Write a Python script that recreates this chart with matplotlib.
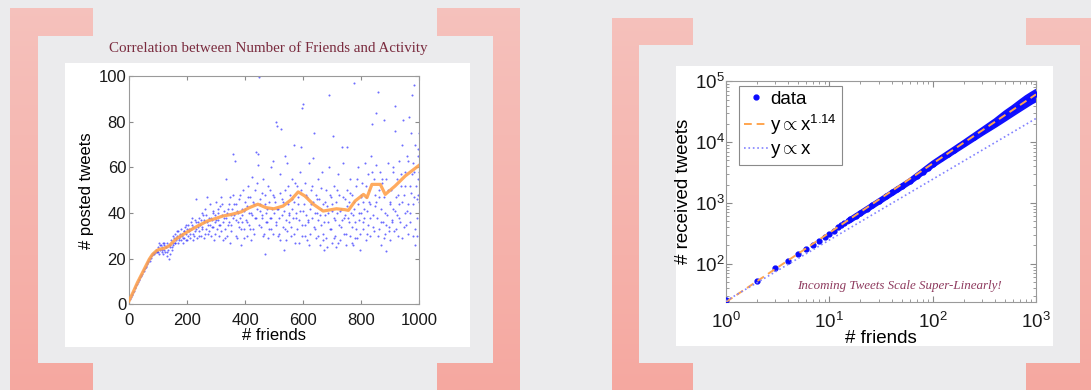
import matplotlib
matplotlib.use("Agg")
import matplotlib.pyplot as plt
import numpy as np
from matplotlib.patches import Polygon, Rectangle
from matplotlib.ticker import FuncFormatter, LogLocator, NullFormatter

plt.rcParams['font.family'] = ['Liberation Sans', 'DejaVu Sans']
plt.rcParams['mathtext.fontset'] = 'custom'
plt.rcParams['mathtext.rm'] = 'Liberation Sans'
plt.rcParams['mathtext.it'] = 'Liberation Sans:italic'
plt.rcParams['mathtext.bf'] = 'Liberation Sans:bold'

# ---- left panel: posted tweets vs friends (scatter) ----
scatter_x = [
    5, 10, 15, 20, 25, 30, 35, 40, 45, 50, 55, 60, 62, 65, 70, 72, 75, 80, 82, 85, 90, 92, 95,
    100, 103, 105, 108, 110, 112, 115, 118, 120, 122, 125, 128, 130, 132, 135, 138, 140, 142, 145, 148, 150,
    152, 155, 158, 160, 162, 165, 168, 170, 172, 175, 178, 180, 183, 185, 188, 190, 192, 195, 198, 200,
    202, 205, 208, 210, 212, 215, 218, 220, 222, 225, 228, 230, 232, 235, 238, 240, 242, 245, 248, 250,
    252, 255, 258, 260, 263, 265, 268, 270, 272, 275, 278, 280, 283, 285, 288, 290, 292, 295, 298, 300,
    302, 305, 308, 310, 312, 315, 318, 320, 323, 325, 328, 330, 333, 335, 338, 340, 343, 345, 348, 350,
    352, 355, 358, 359, 362, 365, 368, 370, 373, 375, 378, 380, 383, 385, 388, 390, 392, 395, 398, 400,
    402, 405, 408, 410, 413, 415, 418, 420, 423, 425, 428, 430, 433, 435, 438, 440, 443, 445, 448, 450,
    452, 455, 458, 460, 462, 465, 468, 469, 472, 475, 478, 480, 483, 485, 488, 490, 492, 495, 497, 500,
    502, 505, 507, 510, 512, 515, 518, 520, 522, 525, 528, 530, 533, 535, 536, 538, 540, 543, 545, 548, 550,
    552, 555, 558, 560, 562, 565, 567, 570, 572, 575, 578, 580, 583, 585, 588, 590, 593, 595, 597, 600,
    602, 605, 608, 610, 612, 615, 618, 620, 622, 625, 628, 630, 633, 634, 638, 640, 643, 645, 648, 650,
    652, 655, 658, 660, 662, 665, 668, 670, 672, 675, 678, 680, 683, 685, 688, 690, 692, 695, 698, 700,
    703, 705, 708, 710, 712, 715, 718, 720, 722, 725, 728, 730, 734, 735, 738, 740, 743, 745, 748, 750,
    752, 755, 758, 760, 762, 765, 768, 770, 772, 775, 777, 779, 780, 782, 785, 788, 790, 792, 795, 798, 800,
    802, 805, 808, 810, 812, 815, 818, 820, 822, 825, 828, 830, 832, 835, 838, 840, 843, 845, 848, 850,
    852, 855, 857, 860, 862, 865, 868, 870, 872, 875, 878, 880, 882, 884, 887, 890, 892, 895, 898, 900,
    902, 905, 908, 910, 912, 915, 917, 920, 922, 925, 928, 930, 932, 935, 938, 940, 942, 945, 948, 950,
    952, 955, 958, 960, 962, 965, 968, 970, 972, 975, 976, 978, 980, 981, 983, 985, 987, 990, 992, 993,
    995, 996, 997, 998, 999, 1000,
]
scatter_y = [
    2.5, 4, 5.5, 7, 8.3, 9.8, 11, 12.3, 13.5, 14.8, 16, 17, 17.5, 18.5, 19.8, 19, 20.5, 21.5, 22.5, 22, 23, 24, 23,
    25, 22, 27, 24, 26, 23, 25, 27, 24, 26, 23, 25, 21, 27, 24, 20, 26, 22, 28, 25, 27,
    26, 29, 27, 31, 28, 30, 27, 32, 29, 31, 28, 33, 30, 27, 32, 29, 34, 31, 28, 33,
    30, 35, 32, 29, 36, 33, 38, 31, 34, 30, 37, 46, 33, 29, 36, 32, 38, 35, 30, 40,
    34, 39, 29, 37, 42, 33, 36, 47, 31, 38, 35, 44, 30, 37, 41, 34, 28, 39, 36, 45,
    33, 40, 37, 30, 43, 35, 47, 39, 28, 36, 41, 33, 38, 55, 30, 42, 36, 44, 27, 39,
    35, 42, 48, 66, 39, 63, 37, 44, 29, 40, 34, 46, 38, 26, 42, 36, 50, 33, 41, 45,
    37, 30, 43, 52, 35, 40, 47, 28, 39, 56, 33, 44, 38, 50, 67, 42, 61, 66, 99.5, 46,
    41, 34, 49, 38, 55, 31, 44, 22, 40, 36, 52, 29, 45, 38, 60, 33, 42, 48, 63, 40,
    45, 35, 80, 78, 30, 42, 38, 57, 28, 77, 46, 34, 41, 24, 65, 50, 37, 62, 32, 44, 39,
    36, 48, 30, 42, 55, 38, 70, 45, 27, 40, 52, 33, 47, 37, 58, 41, 69, 30, 86, 88,
    44, 35, 53, 39, 28, 47, 36, 62, 42, 31, 50, 38, 45, 64, 75, 33, 48, 29, 40, 55,
    37, 46, 26, 42, 35, 58, 31, 44, 24, 39, 50, 29, 43, 36, 60, 92, 33, 47, 27, 41,
    74, 38, 52, 30, 45, 25, 40, 57, 35, 48, 28, 42, 69, 37, 62, 31, 46, 39, 26, 50,
    69, 38, 45, 30, 55, 40, 34, 48, 26, 42, 97, 29, 36, 52, 29, 44, 60, 37, 24, 47, 40,
    53, 33, 45, 38, 62, 28, 47, 41, 57, 35, 50, 30, 44, 65, 79, 39, 55, 32, 48, 84,
    45, 38, 93, 50, 33, 58, 42, 26, 53, 36, 81, 47, 31, 23.5, 55, 39, 62, 34, 45, 28,
    50, 37, 58, 42, 32, 87, 76, 47, 39, 55, 30, 63, 44, 36, 52, 70, 29, 81, 48, 40,
    58, 35, 65, 44, 31, 82, 52, 40, 75, 57, 92, 30, 62, 96, 47, 26, 70, 52, 38, 30,
    65, 48, 55, 45, 75, 58,
]
# second pass over the denser parts of the cloud
scatter_x2 = [
    8, 12, 18, 22, 28, 33, 38, 42, 48, 52, 57, 63, 67, 73, 77, 83, 87, 93, 97,
    101, 107, 113, 117, 121, 127, 131, 137, 141, 147, 151, 157, 161, 167, 171, 177, 181, 187, 191, 197,
    201, 207, 211, 217, 221, 227, 231, 237, 241, 247, 251, 257, 261, 267, 271, 277, 281, 287, 291, 297,
    301, 307, 311, 317, 321, 327, 331, 337, 341, 347, 351, 357, 361, 367, 371, 377, 381, 387, 391, 397,
    401, 407, 411, 417, 421, 427, 431, 437, 441, 447, 451, 457, 461, 467, 471, 477, 481, 487, 491, 497,
    501, 507, 511, 517, 521, 527, 531, 537, 541, 547, 551, 557, 561, 567, 571, 577, 581, 587, 591, 597,
    601, 607, 611, 617, 621, 627, 631, 637, 641, 647, 651, 657, 661, 667, 671, 677, 681, 687, 691, 697,
    701, 707, 711, 717, 721, 727, 731, 737, 741, 747, 751, 757, 761, 767, 771, 777, 781, 787, 791, 797,
    801, 807, 811, 817, 821, 827, 831, 837, 841, 847, 851, 857, 861, 867, 871, 877, 881, 887, 891, 897,
    901, 907, 911, 917, 921, 927, 931, 937, 941, 947, 951, 957, 961, 967, 971, 977, 981, 987, 991, 997,
]
scatter_y2 = [
    3, 4.5, 6, 7.5, 9, 10.5, 12, 13, 14.5, 15.5, 16.5, 18, 19, 20.5, 21, 22, 22.5, 23, 23.5,
    23, 26, 24, 22, 27, 25, 23, 26, 25, 24, 30, 27, 29, 32, 28, 30, 31, 29, 32, 35,
    28, 33, 31, 35, 28, 32, 36, 34, 30, 37, 33, 36, 31, 39, 35, 32, 38, 34, 40, 31,
    37, 42, 35, 32, 44, 38, 29, 40, 35, 47, 32, 38, 44, 30, 41, 36, 48, 33, 39, 29,
    42, 36, 47, 33, 40, 45, 31, 38, 53, 35, 44, 39, 30, 48, 36, 42, 33, 50, 38, 31,
    47, 36, 42, 31, 49, 39, 45, 33, 28, 52, 40, 34, 46, 31, 53, 38, 44, 27, 50, 35,
    41, 30, 48, 37, 26, 44, 52, 34, 40, 46, 30, 39, 51, 28, 36, 45, 25, 40, 48, 33,
    44, 29, 37, 50, 27, 41, 34, 47, 38, 31, 43, 36, 49, 27, 39, 45, 33, 55, 40, 31,
    48, 36, 42, 52, 31, 45, 38, 58, 34, 43, 61, 30, 47, 36, 55, 29, 40, 35, 50, 32,
    44, 36, 60, 41, 33, 48, 38, 57, 45, 34, 52, 41, 63, 36, 49, 44, 58, 33, 46, 68,
]
# moving average (orange line)
avg_x = [0, 15, 29, 45, 58, 70, 81, 95, 104, 120, 138, 161, 196, 236, 270, 300, 323, 352,
         386, 415, 444, 472, 499, 531, 560, 583, 606, 635, 669, 715, 744, 756, 779, 808,
         820, 837, 866, 883, 917, 952, 1000]
avg_y = [1.5, 5.5, 9.5, 13.5, 16.8, 19.8, 21.9, 23.5, 24.1, 24.5, 25.6, 28.5, 31.4, 34.3,
         36.5, 37.7, 38.7, 39.4, 40.5, 42.4, 43.9, 42.4, 41.9, 43.1, 46, 49.3, 47.5, 43.9,
         40.9, 41.9, 41.5, 41.2, 45.3, 48.2, 46.8, 52.6, 52.6, 48.2, 51.9, 56.3, 61]

# ---- right panel: received tweets vs friends (log-log) ----
recv_x = [1, 2, 3, 4, 5, 6, 7, 8, 9, 10, 11, 12, 13, 14, 16, 18, 20, 23, 26, 30, 35, 40, 45,
          50, 60, 70, 80, 90, 100, 120, 140, 160, 180, 200, 250, 300, 350, 400, 500, 600,
          700, 800, 900, 1000]
recv_y = [25, 53, 84, 110, 142, 176, 207, 240, 277, 314, 350, 395, 430, 470, 540, 610, 690,
          800, 920, 1080, 1280, 1490, 1700, 1910, 2330, 2780, 3220, 3700, 4450, 5450, 6450,
          7500, 8550, 9600, 12300, 15200, 18000, 21000, 28000, 34500, 41500, 48500, 55500,
          61500]
band_x = [15, 30, 60, 100, 150, 200, 300, 400, 500, 600, 700, 800, 900, 1000]
band_lo = [495, 1050, 2250, 4250, 6650, 9100, 14200, 19200, 24500, 30000, 35500, 41000,
           46500, 51000]
band_hi = [520, 1110, 2400, 4650, 7350, 10200, 16400, 23000, 31000, 38500, 47000, 55500,
           63000, 70000]
fit_x = [1, 1000]
fit_super_y = [23.5, 61000]
fit_lin_y = [24.5, 24500]

W, H = 1091, 390
BG = '#ebebed'
TOP_PINK = np.array([246, 194, 189]) / 255
BOT_PINK = np.array([245, 168, 160]) / 255
MAROON = '#7a2b3e'

fig = plt.figure(figsize=(W / 100, H / 100), dpi=100)
fig.patch.set_facecolor(BG)
bg = fig.add_axes([0, 0, 1, 1])
bg.axis('off')

grad = TOP_PINK + (BOT_PINK - TOP_PINK) * np.linspace(0, 1, 256)[:, None, None]
brackets = [
    [(10, 8), (93, 8), (93, 36), (38, 36), (38, 363), (93, 363), (93, 400), (10, 400)],
    [(437, 8), (520, 8), (520, 400), (437, 400), (437, 363), (493, 363), (493, 36), (437, 36)],
    [(612, 18), (693, 18), (693, 45), (639, 45), (639, 363), (693, 363), (693, 400), (612, 400)],
    [(1026, 18), (1110, 18), (1110, 400), (1026, 400), (1026, 363), (1080, 363), (1080, 45),
     (1026, 45)],
]
for pts in brackets:
    poly = Polygon(pts, closed=True, fc='none', ec='none')
    bg.add_patch(poly)
    im = bg.imshow(grad, extent=(0, W, H, 0), aspect='auto', zorder=1)
    im.set_clip_path(poly)
bg.set_xlim(0, W)
bg.set_ylim(H, 0)

bg.add_patch(Rectangle((65, 63), 405, 284, fc='white', ec='none', zorder=2))
bg.add_patch(Rectangle((676, 66), 377, 280, fc='white', ec='none', zorder=2))
bg.text(268, 48, 'Correlation between Number of Friends and Activity', family='Liberation Serif',
        fontsize=10.8, color=MAROON, ha='center', va='center', zorder=3)


def px_axes(x0, y0, x1, y1):
    return fig.add_axes([x0 / W, 1 - y1 / H, (x1 - x0) / W, (y1 - y0) / H])


def style(ax, size):
    for s in ax.spines.values():
        s.set_color('#9a9a9a')
        s.set_linewidth(0.8)
    ax.tick_params(which='both', direction='in', top=True, right=True, color='#8a8a8a',
                   labelsize=size, labelcolor='#1a1a1a')


# left chart
ax1 = px_axes(129, 76.3, 419.2, 304.3)
ax1.scatter(scatter_x + scatter_x2, scatter_y + scatter_y2, s=2.2, color='#3c3cff',
            alpha=0.75, lw=0, zorder=2)
ax1.plot(avg_x, avg_y, color='#ffa24d', lw=2.3, alpha=0.9, zorder=3)
ax1.set_xlim(0, 1000)
ax1.set_ylim(0, 100)
ax1.set_xticks(range(0, 1001, 200))
ax1.set_yticks(range(0, 101, 20))
style(ax1, 12)
ax1.tick_params(length=3)
ax1.tick_params(axis='x', pad=6)
ax1.tick_params(axis='y', pad=2)
ax1.set_xlabel('# friends', fontsize=12, labelpad=0)
ax1.set_ylabel('# posted tweets', fontsize=12, labelpad=3)

# right chart
ax2 = px_axes(726, 81.3, 1036, 302)
ax2.set_xscale('log')
ax2.set_yscale('log')
ax2.fill_between(band_x, band_lo, band_hi, color='#1010ff', lw=3.5, ec='#1010ff', zorder=2)
ax2.plot(recv_x, recv_y, '.', color='#0a0aff', ms=7, label='data', zorder=3)
ax2.plot(fit_x, fit_super_y, '--', color='#ffa54f', lw=1.4, dashes=(4, 2.5),
         label=r'y$\propto$x$^{1.14}$', zorder=4)
ax2.plot(fit_x, fit_lin_y, ':', color='#8282ff', lw=1.2, label=r'y$\propto$x', zorder=4)
ax2.set_xlim(1, 1000)
ax2.set_ylim(23.5, 1e5)
sup = FuncFormatter(lambda v, p: r'$\mathregular{10^{%d}}$' % round(np.log10(v)))
ax2.xaxis.set_major_formatter(sup)
ax2.yaxis.set_major_formatter(sup)
ax2.xaxis.set_minor_locator(LogLocator(subs=range(2, 10)))
ax2.yaxis.set_minor_locator(LogLocator(subs=range(2, 10)))
ax2.xaxis.set_minor_formatter(NullFormatter())
ax2.yaxis.set_minor_formatter(NullFormatter())
style(ax2, 13.5)
ax2.tick_params(which='major', length=4)
ax2.tick_params(which='minor', length=2)
ax2.tick_params(axis='x', pad=7)
ax2.tick_params(axis='y', pad=1)
ax2.set_xlabel('# friends', fontsize=13.5, labelpad=-1)
ax2.set_ylabel('# received tweets', fontsize=13.5, labelpad=2)
leg = ax2.legend(loc='upper left', bbox_to_anchor=(0.042, 0.979), borderaxespad=0,
                 fontsize=13.5, fancybox=False, edgecolor='#8a8a8a', framealpha=1,
                 handlelength=1.3, handletextpad=0.1, labelspacing=0.25, borderpad=0.25)
leg.get_frame().set_linewidth(0.8)

fig.text(899 / W, 1 - 286 / H, 'Incoming Tweets Scale Super-Linearly!',
         family='Liberation Serif', style='italic', fontsize=9.4, color='#8e3a5e',
         ha='center', va='center', zorder=10)

fig.savefig('out.png', dpi=100, facecolor=BG)
